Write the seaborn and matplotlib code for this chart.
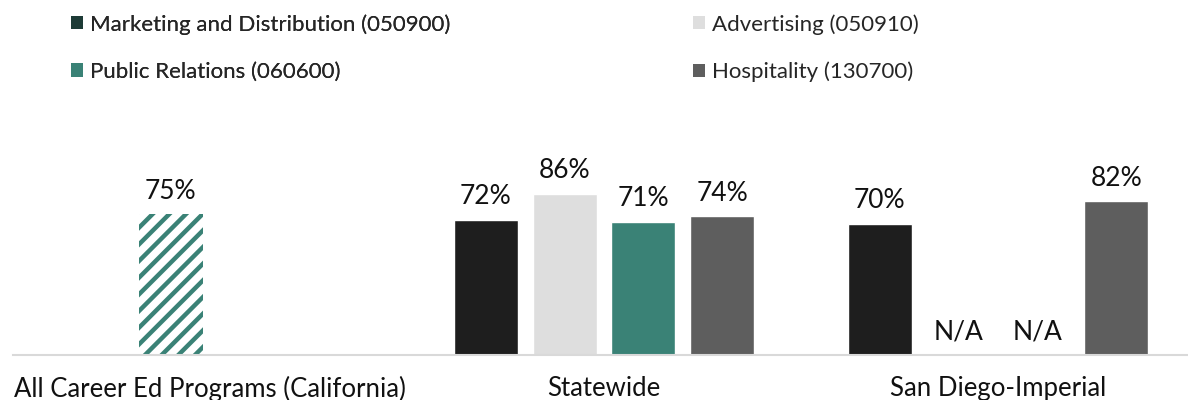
import numpy as np
import pandas as pd
import matplotlib.pyplot as plt
import seaborn as sns
from matplotlib.patches import Patch


groups = ["All Career Ed Programs (California)", "Statewide", "San Diego-Imperial"]
series = [
    "Marketing and Distribution (050900)",
    "Advertising (050910)",
    "Public Relations (060600)",
    "Hospitality (130700)",
]
bar_colors = ["#1e1e1e", "#dedede", "#3a8276", "#5e5e5e"]
legend_colors = ["#1d3b36", "#dedede", "#3a8276", "#5e5e5e"]

all_programs = 0.75
statewide = [0.72, 0.86, 0.71, 0.74]
san_diego = [0.70, np.nan, np.nan, 0.82]


rows = []
# the all-programs bar sits in the second slot of its group
rows.append((groups[0], series[1], all_programs))
for s, v in zip(series, statewide):
    rows.append((groups[1], s, v))
for s, v in zip(series, san_diego):
    rows.append((groups[2], s, v))
df = pd.DataFrame(rows, columns=["group", "series", "value"])

sns.set_style("white")
plt.rcParams["font.family"] = ["Lato", "DejaVu Sans"]
plt.rcParams["hatch.linewidth"] = 3.2

fig = plt.figure(figsize=(11.88, 4), dpi=100)
ax = fig.add_axes([13 / 1188, 45 / 400, 1182 / 1188, 187.5 / 400])

sns.barplot(
    data=df.dropna(), x="group", y="value", hue="series",
    order=groups, hue_order=series,
    palette=dict(zip(series, bar_colors)), saturation=1,
    width=0.8, gap=0.19, legend=False, ax=ax,
)

for p in ax.patches:
    h = p.get_height()
    if np.isnan(h):
        continue
    cx = p.get_x() + p.get_width() / 2
    if cx < 0.5:
        p.set_facecolor("white")
        p.set_edgecolor("#3a8276")
        p.set_hatch("//")
        p.set_linewidth(0)
    ax.annotate(f"{h:.0%}", (cx, h), xytext=(0, 23), textcoords="offset pixels",
                ha="center", va="center", fontsize=19, color="#111111")

slot = 0.8 / len(series)
for gi, vals in enumerate([statewide, san_diego], start=1):
    for si, v in enumerate(vals):
        if np.isnan(v):
            x = gi + (si - 1.5) * slot
            ax.text(x, 0.125, "N/A", ha="center", va="center",
                    fontsize=19, color="#111111")

ax.set_xlim(-0.5, 2.5)
ax.set_ylim(0, 1.0)
ax.set_xlabel("")
ax.set_ylabel("")
ax.set_yticks([])
ax.tick_params(axis="x", length=0, pad=15, labelsize=18.5, labelcolor="#111111")
for side in ["top", "left", "right"]:
    ax.spines[side].set_visible(False)
ax.spines["bottom"].set_color("#d9d9d9")
ax.spines["bottom"].set_linewidth(1.5)

handles = [Patch(facecolor=c, edgecolor="none") for c in legend_colors]
leg_kw = dict(loc="upper left", frameon=False, fontsize=16,
              handlelength=0.55, handleheight=0.55, handletextpad=0.3,
              labelspacing=1.22, borderpad=0, borderaxespad=0)
leg1 = fig.legend(handles[0::2], series[0::2],
                  bbox_to_anchor=(71 / 1188, 1 - 14 / 400), **leg_kw)
fig.add_artist(leg1)
fig.legend(handles[1::2], series[1::2],
           bbox_to_anchor=(693 / 1188, 1 - 14 / 400), **leg_kw)

fig.savefig("out.png", dpi=100)
